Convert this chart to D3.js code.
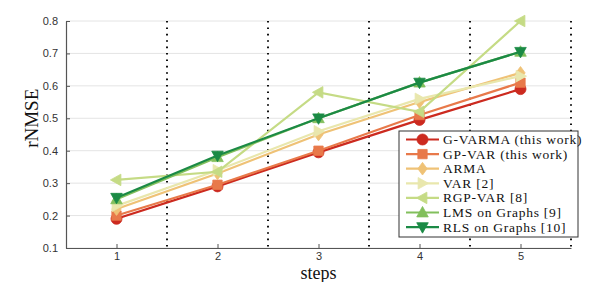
<!DOCTYPE html>
<html><head><meta charset="utf-8">
<script src="https://cdn.jsdelivr.net/npm/d3@7"></script>
<style>body{margin:0;background:#fff;}</style>
</head><body>
<svg id="c" width="598" height="282"></svg>
<script>
const steps = [1, 2, 3, 4, 5];
const seriesNames = ["G-VARMA (this work)", "GP-VAR (this work)", "ARMA", "VAR [2]", "RGP-VAR [8]", "LMS on Graphs [9]", "RLS on Graphs [10]"];
const gvarma = [0.19, 0.29, 0.395, 0.495, 0.59];
const gpvar  = [0.20, 0.295, 0.40, 0.51, 0.61];
const arma   = [0.22, 0.33, 0.45, 0.55, 0.64];
const varS   = [0.23, 0.34, 0.46, 0.56, 0.63];
const rgpvar = [0.31, 0.335, 0.58, 0.52, 0.80];
const lms    = [0.25, 0.38, 0.50, 0.61, 0.705];
const rls    = [0.255, 0.385, 0.50, 0.61, 0.705];
const yTicks = [0.1, 0.2, 0.3, 0.4, 0.5, 0.6, 0.7, 0.8];
const sepLines = [1.5, 2.5, 3.5, 4.5, 5.5];

const colors = ["#cc2a1f", "#e8794a", "#efc276", "#e9e7ad", "#c5db85", "#82bf5c", "#1b8a45"];
const markers = ["circle", "square", "diamond", "triRight", "triLeft", "triUp", "triDown"];
const allSeries = [gvarma, gpvar, arma, varS, rgpvar, lms, rls];

const svg = d3.select("#c");
const x = d3.scaleLinear().domain([0.5, 5.5]).range([66, 571]);
const y = d3.scaleLinear().domain([0.1, 0.8]).range([248, 21]);

// grid
svg.append("g").selectAll("line").data(yTicks).join("line")
  .attr("x1", x(0.5)).attr("x2", x(5.5)).attr("y1", d => y(d)).attr("y2", d => y(d))
  .attr("stroke", "#e4e4e4").attr("stroke-width", 1);

// dotted separators
svg.append("g").selectAll("line").data(sepLines).join("line")
  .attr("x1", d => x(d)).attr("x2", d => x(d)).attr("y1", y(0.8)).attr("y2", y(0.1))
  .attr("stroke", "#111").attr("stroke-width", 2).attr("stroke-dasharray", "1.6,4.8");

// axes
const yAxis = d3.axisLeft(y).tickValues(yTicks).tickFormat(d3.format(".1f")).tickSizeInner(-4).tickSizeOuter(0).tickPadding(8);
const gy = svg.append("g").attr("transform", `translate(${x(0.5)},0)`).call(yAxis);
const xAxis = d3.axisBottom(x).tickValues(steps).tickFormat(d3.format("d")).tickSizeInner(-4).tickSizeOuter(0).tickPadding(4);
const gx = svg.append("g").attr("transform", `translate(0,${y(0.1)})`).call(xAxis);
[gx, gy].forEach(g => {
  g.select(".domain").attr("stroke", "#555").attr("stroke-width", 1.2);
  g.selectAll(".tick line").attr("stroke", "#555");
  g.selectAll("text").attr("fill", "#333").attr("font-family", "Liberation Sans, Arial, sans-serif").attr("font-size", 11);
});

function markerPath(type, s) {
  switch (type) {
    case "circle": return d3.symbol(d3.symbolCircle, Math.PI * s * s)();
    case "square": return `M${-s*0.85},${-s*0.85}h${1.7*s}v${1.7*s}h${-1.7*s}Z`;
    case "diamond": return `M0,${-s*1.15}L${s*0.85},0L0,${s*1.15}L${-s*0.85},0Z`;
    case "triRight": return `M${s*1.1},0L${-s*0.8},${-s*1.05}L${-s*0.8},${s*1.05}Z`;
    case "triLeft": return `M${-s*1.1},0L${s*0.8},${-s*1.05}L${s*0.8},${s*1.05}Z`;
    case "triUp": return `M0,${-s*1.1}L${s*1.05},${s*0.8}L${-s*1.05},${s*0.8}Z`;
    case "triDown": return `M0,${s*1.1}L${s*1.05},${-s*0.8}L${-s*1.05},${-s*0.8}Z`;
  }
}

const line = d3.line().x((d, i) => x(steps[i])).y(d => y(d));
allSeries.forEach((vals, k) => {
  const g = svg.append("g");
  g.append("path").attr("d", line(vals)).attr("fill", "none").attr("stroke", colors[k]).attr("stroke-width", 2.2);
  g.selectAll("path.m").data(vals).join("path").attr("class", "m")
    .attr("d", markerPath(markers[k], 5.5))
    .attr("transform", (d, i) => `translate(${x(steps[i])},${y(d)})`)
    .attr("fill", colors[k]).attr("stroke", colors[k]).attr("stroke-width", 0.8);
});

// legend
const lg = svg.append("g").attr("transform", "translate(399,131)");
lg.append("rect").attr("width", 179).attr("height", 106).attr("fill", "#fff").attr("stroke", "#333").attr("stroke-width", 1);
seriesNames.forEach((name, k) => {
  const yy = 8.5 + k * 14.6;
  lg.append("line").attr("x1", 7).attr("x2", 40).attr("y1", yy).attr("y2", yy).attr("stroke", colors[k]).attr("stroke-width", 2.2);
  lg.append("path").attr("d", markerPath(markers[k], 5.5)).attr("transform", `translate(23.5,${yy})`).attr("fill", colors[k]).attr("stroke", colors[k]).attr("stroke-width", 0.8);
  lg.append("text").attr("x", 44).attr("y", yy + 4.5).text(name)
    .attr("font-family", "Liberation Serif, Times New Roman, serif").attr("font-size", 13.5)
    .attr("letter-spacing", 0.75).attr("fill", "#111");
});

// axis titles
svg.append("text").attr("transform", `translate(38,${y(0.5)}) rotate(-90)`).attr("text-anchor", "middle")
  .attr("font-family", "Liberation Serif, Times New Roman, serif").attr("font-size", 19).attr("fill", "#111").text("rNMSE");
svg.append("text").attr("x", x(3)).attr("y", 279).attr("text-anchor", "middle")
  .attr("font-family", "Liberation Serif, Times New Roman, serif").attr("font-size", 18).attr("fill", "#111").text("steps");
</script>
</body></html>
